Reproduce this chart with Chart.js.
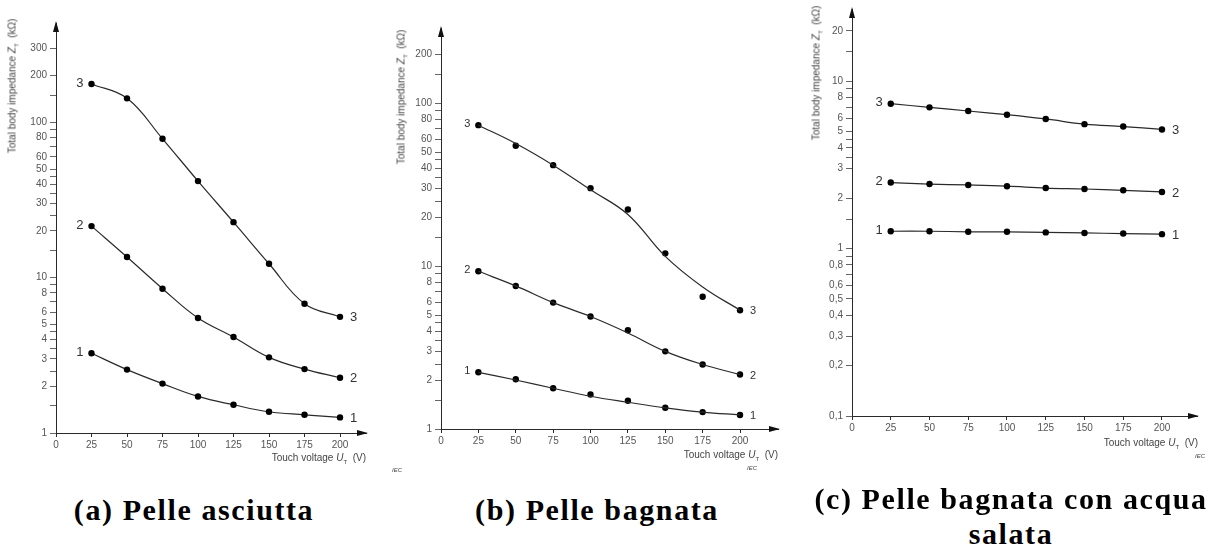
<!DOCTYPE html>
<html lang="it">
<head>
<meta charset="UTF-8">
<title>Impedenza totale del corpo</title>
<script src="https://cdn.jsdelivr.net/npm/chart.js"></script>
<style>
  body { margin: 0; background: #fff; width: 1218px; height: 550px; position: relative; overflow: hidden; }
  canvas { position: absolute; top: 0; }
  .ytitle, .xtitle, .iec, .caption { position: absolute; white-space: nowrap; color: #444; font-family: "Liberation Sans", Arial, sans-serif; }
  .ytitle { font-size: 10px; transform: translate(-50%, -50%) rotate(-90deg); }
  .xtitle { font-size: 10px; transform: translate(-100%, -50%); }
  .ytitle sub, .xtitle sub { font-size: 6px; }
  .iec { font-size: 6px; font-style: italic; transform: translate(-50%, -50%); }
  .caption { font-family: "Liberation Serif", "Times New Roman", serif; font-weight: bold; font-size: 30px; letter-spacing: 1.6px; color: #000; transform: translate(-50%, -50%); }
</style>
</head>
<body>

<canvas id="chartA" width="400" height="470" style="left:0px"></canvas>
<canvas id="chartB" width="420" height="470" style="left:380px"></canvas>
<canvas id="chartC" width="428" height="470" style="left:790px"></canvas>

<div class="ytitle" style="left:13px; top:86px">Total body impedance <i>Z</i><sub>T</sub> &nbsp;(kΩ)</div>
<div class="ytitle" style="left:402px; top:97px">Total body impedance <i>Z</i><sub>T</sub> &nbsp;(kΩ)</div>
<div class="ytitle" style="left:817px; top:73px">Total body impedance <i>Z</i><sub>T</sub> &nbsp;(kΩ)</div>

<div class="xtitle" style="left:366px; top:458px">Touch voltage <i>U</i><sub>T</sub> &nbsp;(V)</div>
<div class="xtitle" style="left:778px; top:455px">Touch voltage <i>U</i><sub>T</sub> &nbsp;(V)</div>
<div class="xtitle" style="left:1198px; top:443px">Touch voltage <i>U</i><sub>T</sub> &nbsp;(V)</div>

<div class="iec" style="left:397px; top:470px">IEC</div>
<div class="iec" style="left:752px; top:468px">IEC</div>
<div class="iec" style="left:1200px; top:456px">IEC</div>

<div class="caption" style="left:194px; top:510px">(a) Pelle asciutta</div>
<div class="caption" style="left:597px; top:510px">(b) Pelle bagnata</div>
<div class="caption" style="left:1011px; top:499px">(c) Pelle bagnata con acqua</div>
<div class="caption" style="left:1011px; top:534px">salata</div>

<script>
// tensioni di contatto (V)
const voltages = [25, 50, 75, 100, 125, 150, 175, 200];
const xTicks = [0, 25, 50, 75, 100, 125, 150, 175, 200];

// (a) pelle asciutta, kOhm
const dry1 = [3.26, 2.56, 2.08, 1.72, 1.52, 1.37, 1.31, 1.26];
const dry2 = [21.5, 13.6, 8.5, 5.5, 4.15, 3.07, 2.58, 2.27];
const dry3 = [177, 143, 78.5, 41.9, 22.8, 12.3, 6.8, 5.6];

// (b) pelle bagnata: punti misurati e curva interpolata
const wet1 = [2.23, 2.02, 1.78, 1.63, 1.49, 1.35, 1.27, 1.22];
const wet2 = [9.31, 7.57, 5.98, 4.91, 4.04, 3.0, 2.49, 2.16];
const wet3 = [73.6, 55, 41.8, 30.2, 22.3, 12.0, 6.5, 5.37];
const wetFit1 = [2.23, 2.0, 1.78, 1.59, 1.46, 1.35, 1.27, 1.22];
const wetFit2 = [9.31, 7.57, 5.98, 4.91, 3.89, 3.0, 2.49, 2.16];
const wetFit3 = [73.6, 56.8, 41.8, 29.5, 20.8, 11.5, 7.46, 5.37];

// (c) pelle bagnata con acqua salata
const salt1 = [1.27, 1.27, 1.26, 1.26, 1.25, 1.24, 1.23, 1.22];
const salt2 = [2.48, 2.43, 2.40, 2.36, 2.30, 2.27, 2.23, 2.18];
const salt3 = [7.34, 6.98, 6.64, 6.31, 5.95, 5.54, 5.36, 5.15];

// tacche asse y
const yLabelsAB = [1, 2, 3, 4, 5, 6, 8, 10, 20, 30, 40, 50, 60, 80, 100, 200, 300];
const yMinorAB = [1.5, 2.5, 3.5, 4.5, 7, 9, 15, 25, 35, 45, 70, 90, 150];
const yLabelsC = [0.1, 0.2, 0.3, 0.4, 0.5, 0.6, 0.8, 1, 2, 3, 4, 5, 6, 8, 10, 20];
const yMinorC = [0.7, 0.9, 1.5, 3.5, 4.5, 7, 9, 15];

const inchiostro = '#2a2a2a';
const grigio = '#555';

function punti(valori) {
    return voltages.map(function (v, i) { return { x: v, y: valori[i] }; });
}

// numeri 1, 2, 3 ai lati delle curve
const etichette = {
    id: 'etichette',
    afterDatasetsDraw(chart) {
        const ctx = chart.ctx;
        ctx.save();
        ctx.fillStyle = '#333';
        ctx.font = chart.options.plugins.etichette.size + 'px "Liberation Sans", Arial, sans-serif';
        ctx.textBaseline = 'middle';
        chart.data.datasets.forEach(function (ds, i) {
            if (!ds.tag) return;
            const meta = chart.getDatasetMeta(i);
            const primo = meta.data[0];
            const ultimo = meta.data[meta.data.length - 1];
            ctx.textAlign = 'right';
            ctx.fillText(ds.tag, primo.x - 8, primo.y - 1);
            ctx.textAlign = 'left';
            ctx.fillText(ds.tag, ultimo.x + 10, ultimo.y + 1);
        });
        ctx.restore();
    }
};

// frecce alla fine degli assi
const frecce = {
    id: 'frecce',
    afterDraw(chart) {
        const a = chart.chartArea;
        const ctx = chart.ctx;
        ctx.save();
        ctx.fillStyle = '#111';
        ctx.beginPath();
        ctx.moveTo(a.left, a.top - 2);
        ctx.lineTo(a.left - 3, a.top + 9);
        ctx.lineTo(a.left + 3, a.top + 9);
        ctx.closePath();
        ctx.fill();
        ctx.beginPath();
        ctx.moveTo(a.right + 2, a.bottom);
        ctx.lineTo(a.right - 9, a.bottom - 3);
        ctx.lineTo(a.right - 9, a.bottom + 3);
        ctx.closePath();
        ctx.fill();
        ctx.restore();
    }
};

function creaGrafico(id, datasets, opz) {
    const canvas = document.getElementById(id);
    const labeled = opz.yLabels;
    const tutte = opz.yLabels.concat(opz.yMinor).filter(function (v) { return v <= opz.yMax; }).sort(function (a, b) { return a - b; });
    return new Chart(canvas, {
        type: 'line',
        data: { datasets: datasets },
        options: {
            responsive: false,
            animation: false,
            devicePixelRatio: 1,
            layout: { padding: { left: 0, top: opz.top, right: canvas.width - opz.right, bottom: 0 } },
            plugins: {
                legend: { display: false },
                tooltip: { enabled: false },
                etichette: { size: opz.labelSize }
            },
            scales: {
                x: {
                    type: 'linear',
                    min: 0,
                    max: opz.xMax,
                    afterBuildTicks: function (scale) {
                        scale.ticks = xTicks.map(function (v) { return { value: v }; });
                    },
                    afterFit: function (scale) { scale.height = canvas.height - opz.bottom; },
                    grid: { drawOnChartArea: false, drawTicks: true, tickLength: 4, color: inchiostro },
                    border: { display: true, color: inchiostro, width: 1 },
                    ticks: { color: grigio, padding: 2, maxRotation: 0, font: { family: '"Liberation Sans", Arial, sans-serif', size: 10 } }
                },
                y: {
                    type: 'logarithmic',
                    min: opz.yMin,
                    max: opz.yMax,
                    afterBuildTicks: function (scale) {
                        scale.ticks = tutte.map(function (v) { return { value: v }; });
                    },
                    afterFit: function (scale) { scale.width = opz.left; },
                    grid: { drawOnChartArea: false, drawTicks: true, tickLength: 6, color: '#666' },
                    border: { display: true, color: inchiostro, width: 1 },
                    ticks: {
                        color: grigio,
                        padding: 3,
                        autoSkip: false,
                        font: { family: '"Liberation Sans", Arial, sans-serif', size: 10 },
                        callback: function (v) {
                            if (labeled.indexOf(v) < 0) return '';
                            return String(v).replace('.', ',');
                        }
                    }
                }
            }
        },
        plugins: [etichette, frecce]
    });
}

function serie(valori, tag) {
    return {
        data: punti(valori),
        tag: tag,
        borderColor: inchiostro,
        borderWidth: 1.2,
        tension: 0.4,
        pointRadius: 3.2,
        pointBackgroundColor: '#000',
        pointBorderWidth: 0
    };
}

function soloPunti(valori, tag) {
    const s = serie(valori, tag);
    s.showLine = false;
    return s;
}

function curva(valori) {
    return {
        data: punti(valori),
        borderColor: inchiostro,
        borderWidth: 1.2,
        tension: 0.4,
        pointRadius: 0
    };
}

creaGrafico('chartA', [serie(dry1, '1'), serie(dry2, '2'), serie(dry3, '3')],
    { left: 56, right: 366, top: 23, bottom: 433, xMax: 218.3, yMin: 1, yMax: 437, yLabels: yLabelsAB, yMinor: yMinorAB, labelSize: 13 });

creaGrafico('chartB', [curva(wetFit1), curva(wetFit2), curva(wetFit3),
        soloPunti(wet1, '1'), soloPunti(wet2, '2'), soloPunti(wet3, '3')],
    { left: 61, right: 398, top: 28, bottom: 429, xMax: 225.4, yMin: 1, yMax: 291, yLabels: yLabelsAB.filter(function (v) { return v < 300; }), yMinor: yMinorAB, labelSize: 11 });

creaGrafico('chartC', [serie(salt1, '1'), serie(salt2, '2'), serie(salt3, '3')],
    { left: 62, right: 407, top: 5, bottom: 416, xMax: 222.6, yMin: 0.1, yMax: 27, yLabels: yLabelsC, yMinor: yMinorC, labelSize: 13 });
</script>
</body>
</html>
